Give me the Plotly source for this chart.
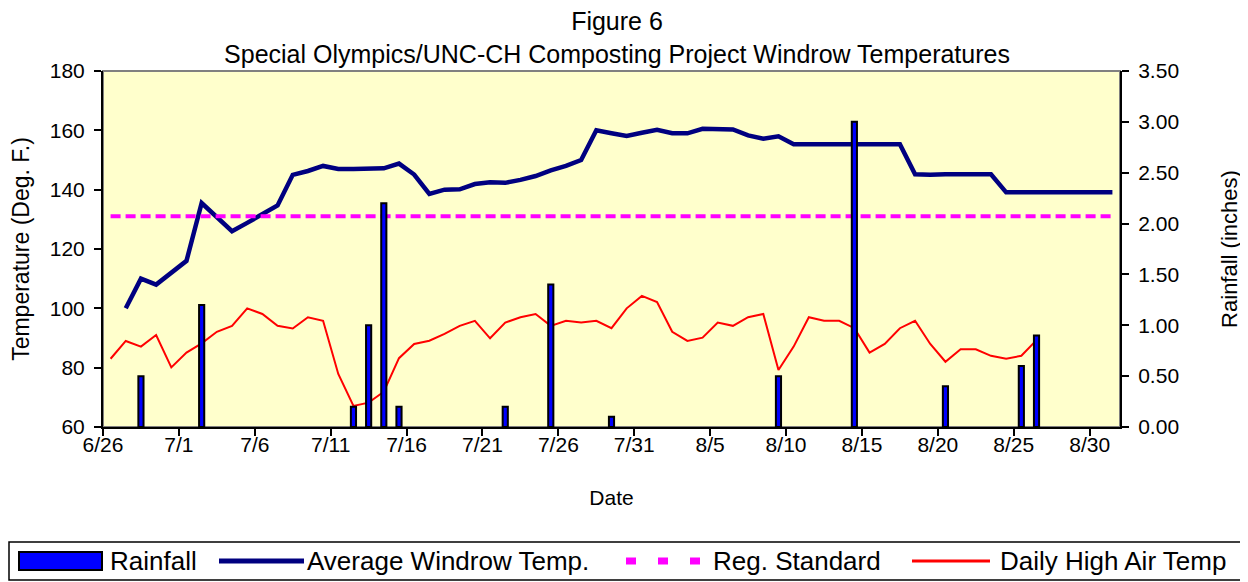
import pandas as pd
import plotly.graph_objects as go

YEAR = "1999"

# ---- Average windrow temperature (deg F), daily 6/27 .. 8/31
windrow_start = "06-27"
windrow_temp = [
    100, 110, 108, 112,                                   # 6/27-6/30
    116, 135.5, 130.7, 126, 128.8, 131.7, 134.7, 145, 146.3, 148,   # 7/1-7/10
    147, 147, 147, 147.2, 148.8, 145.1, 138.6, 140, 140.1, 141.9,   # 7/11-7/20
    142.5, 142.3, 143.3, 144.6, 146.5, 148, 150, 160, 159, 158.1,   # 7/21-7/30
    159.2,                                                 # 7/31
    160.2, 159, 159, 160.5, 160.4, 160.3, 158.3, 157.2, 158, 155.3, # 8/1-8/10
    155.3, 155.3, 155.3, 155.3, 155.3, 155.3, 155.3, 145.2, 145, 145.2,  # 8/11-8/20
    145.2, 145.2, 145.2, 139.1, 139.1, 139.1, 139.1, 139.1, 139.1, 139.1, 139.1,  # 8/21-8/31
]

# ---- Daily high air temperature (deg F), daily 6/26 .. 8/26
air_start = "06-26"
air_temp = [
    83, 89, 87.1, 91, 80.1,                                          # 6/26-6/30
    85.1, 88.2, 92.1, 94.1, 100, 98.1, 94.1, 93.2, 97, 95.8,         # 7/1-7/10
    77.9, 67.1, 68.2, 71.9, 83.2, 88, 89.1, 91.4, 94.1, 95.8,        # 7/11-7/20
    89.9, 95.2, 97, 98.1, 94.1, 95.8, 95.2, 95.8, 93.3, 100,         # 7/21-7/30
    104.2,                                                           # 7/31
    102.1, 92.1, 89, 90.1, 95.2, 94.1, 97, 98.1, 79.2, 87.1,         # 8/1-8/10
    97, 95.8, 95.8, 93.3, 85.1, 88, 93.3, 95.8, 88, 82,              # 8/11-8/20
    86.2, 86.2, 84, 83, 84, 89.3,                                    # 8/21-8/26
]

# ---- Rainfall (inches)
rain_dates = ["06-28", "07-02", "07-12", "07-13", "07-14", "07-15", "07-22",
              "07-25", "07-29", "08-09", "08-14", "08-20", "08-25", "08-26"]
rain_inches = [0.5, 1.2, 0.2, 1.0, 2.2, 0.2, 0.2, 1.4, 0.1, 0.5, 3.0, 0.4, 0.6, 0.9]

# ---- Regulatory standard (deg F)
reg_start, reg_end = "06-26", "08-31"
reg_standard = 131

# ---- Axis tick labels
x_tick_labels = ["6/26", "7/1", "7/6", "7/11", "7/16", "7/21", "7/26", "7/31",
                 "8/5", "8/10", "8/15", "8/20", "8/25", "8/30"]
axis_start, axis_end = "06-26", "09-01"

series_names = ["Rainfall", "Average Windrow Temp.", "Reg. Standard", "Daily High Air Temp"]

half_day = pd.Timedelta(hours=12)


def day(md):
    return pd.Timestamp(f"{YEAR}-{md}")


windrow_x = pd.date_range(day(windrow_start), periods=len(windrow_temp), freq="D") + half_day
air_x = pd.date_range(day(air_start), periods=len(air_temp), freq="D") + half_day
rain_x = [day(d) + half_day for d in rain_dates]
reg_x = pd.date_range(day(reg_start), day(reg_end), freq="D") + half_day
reg_y = [reg_standard] * len(reg_x)
tick_vals = [pd.Timestamp(f"{YEAR}/{t}") for t in x_tick_labels]

FONT = "Liberation Sans, Arial, sans-serif"
OFF = 8                      # page body margin around the figure
W, H = 1248 - OFF, 582 - OFF
ML, MT = 103 - OFF, 71 - OFF
MR, MB = W - (1120 - OFF), H - (427 - OFF)
PW, PH = W - ML - MR, H - MT - MB

NAVY, MAGENTA, RED, BLUE = "#000080", "#FF00FF", "#FF0000", "#0000FF"

fig = go.Figure()
fig.add_trace(go.Bar(
    x=rain_x, y=rain_inches, name=series_names[0], yaxis="y2",
    width=0.34 * 86400000,
    marker=dict(color=BLUE, line=dict(color="black", width=2)),
))
fig.add_trace(go.Scatter(
    x=windrow_x, y=windrow_temp, name=series_names[1], mode="lines",
    line=dict(color=NAVY, width=4.5),
))
fig.add_trace(go.Scatter(
    x=reg_x, y=reg_y, name=series_names[2], mode="lines",
    line=dict(color=MAGENTA, width=4, dash="10px,5px"),
))
fig.add_trace(go.Scatter(
    x=air_x, y=air_temp, name=series_names[3], mode="lines",
    line=dict(color=RED, width=2),
))

axis_common = dict(
    showline=True, linecolor="black", linewidth=2,
    ticks="outside", ticklen=7, tickwidth=2, tickcolor="black",
    showgrid=False, zeroline=False,
    tickfont=dict(family=FONT, size=21, color="black"),
)


# ---- legend drawn as a boxed key below the chart (page pixel positions)
def px(x):
    return (x - OFF - ML) / PW


def py(y):
    return (H - MB - (y - OFF)) / PH


shapes = [
    dict(type="rect", xref="paper", yref="paper", x0=0, x1=1, y0=0, y1=1,
         line=dict(color="#808080", width=2), layer="below"),
    dict(type="rect", xref="paper", yref="paper", x0=px(9), x1=px(1243), y0=py(542), y1=py(580),
         line=dict(color="black", width=1.5), fillcolor="white"),
    dict(type="rect", xref="paper", yref="paper", x0=px(19), x1=px(102), y0=py(552), y1=py(570),
         line=dict(color="black", width=2), fillcolor=BLUE),
    dict(type="line", xref="paper", yref="paper", x0=px(219), x1=px(304), y0=py(561), y1=py(561),
         line=dict(color=NAVY, width=5)),
    dict(type="line", xref="paper", yref="paper", x0=px(626), x1=px(702), y0=py(561), y1=py(561),
         line=dict(color=MAGENTA, width=7, dash="10px,22px")),
    dict(type="line", xref="paper", yref="paper", x0=px(912), x1=px(990), y0=py(561), y1=py(561),
         line=dict(color=RED, width=3)),
]
legend_text_x = [108, 305, 711, 998]
annotations = [
    dict(text=name, xref="paper", yref="paper", x=px(tx), y=py(561),
         xanchor="left", yanchor="middle", showarrow=False,
         font=dict(family=FONT, size=26, color="black"))
    for name, tx in zip(series_names, legend_text_x)
]

fig.update_layout(
    width=W, height=H,
    margin=dict(l=ML, r=MR, t=MT, b=MB, autoexpand=False),
    paper_bgcolor="white", plot_bgcolor="#FFFFCC",
    font=dict(family=FONT, color="black"),
    showlegend=False,
    title=dict(
        text="Figure 6<br>Special Olympics/UNC-CH Composting Project Windrow Temperatures",
        x=(617 - OFF) / W, xanchor="center", y=1 - 22 / H, yanchor="top",
        font=dict(family=FONT, size=25, color="black"),
    ),
    xaxis=dict(
        type="date", range=[day(axis_start), day(axis_end)],
        tickvals=tick_vals, ticktext=x_tick_labels, tickangle=0,
        ticklabelstandoff=-9,
        title=dict(text="Date", standoff=35, font=dict(family=FONT, size=21, color="black")),
        **axis_common,
    ),
    yaxis=dict(
        range=[60, 180], dtick=20, tick0=60,
        title=dict(text="Temperature (Deg. F.)", standoff=17,
                   font=dict(family=FONT, size=23, color="black")),
        ticklabelstandoff=5,
        **axis_common,
    ),
    yaxis2=dict(
        range=[0, 3.5], dtick=0.5, tick0=0, tickformat=".2f",
        overlaying="y", side="right",
        title=dict(text="Rainfall (inches)", standoff=44,
                   font=dict(family=FONT, size=22, color="black")),
        ticklabelstandoff=5,
        **axis_common,
    ),
    shapes=shapes,
    annotations=annotations,
)

fig.write_html("out.html")
